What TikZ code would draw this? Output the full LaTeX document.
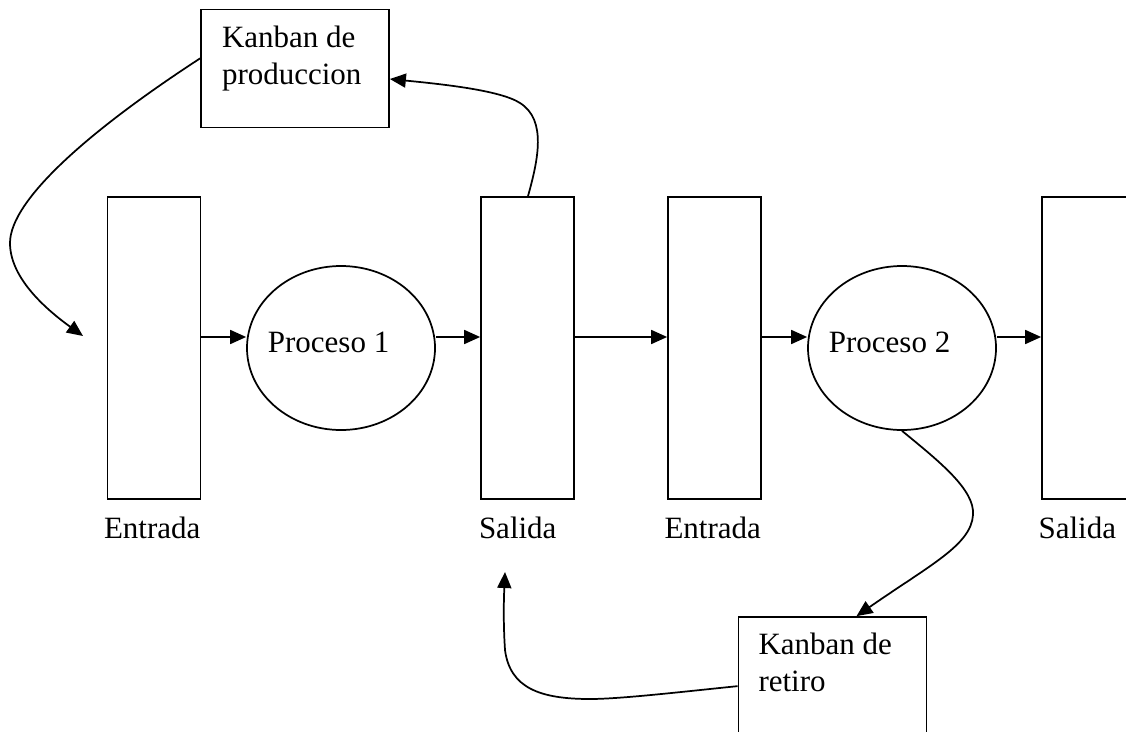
\documentclass[tikz,border=0pt]{standalone}
\usepackage{fontspec}
\setmainfont{Liberation Serif}
\usetikzlibrary{arrows.meta,shapes.geometric,calc}
\begin{document}
\begin{tikzpicture}[x=0.75pt,y=-0.75pt,
  line width=1.3pt,
  font=\fontsize{23.25}{27.75}\selectfont,
  buffer/.style={draw,rectangle,inner sep=0pt,minimum width=69.75pt,minimum height=226.5pt},
  proc/.style={draw,ellipse,inner sep=0pt,minimum width=141pt,minimum height=123pt},
  card/.style={draw,rectangle,inner sep=0pt,minimum width=141pt,minimum height=88.5pt},
  txt/.style={inner sep=0pt,anchor=base west},
  flow/.style={-{Triangle[length=12pt,width=10.5pt]}},
]
\useasboundingbox (0,0) rectangle (1126,731);
\clip (0,0) rectangle (1126,731);

% storage buffers
\node[buffer] (e1) at (154,348) {};
\node[buffer] (s1) at (527.5,348) {};
\node[buffer] (e2) at (714.5,348) {};
\node[buffer] (s2) at (1088.5,348) {};

% processes
\node[proc] (p1) at (341,348) {};
\node[proc] (p2) at (902,348) {};
\node[txt] (p1t) at ($(p1.center)+(-74,4)$) {Proceso 1};
\node[txt] (p2t) at ($(p2.center)+(-74,4)$) {Proceso 2};

% buffer labels
\node[txt] (le1) at ($(e1.south west)+(-3.5,39)$) {Entrada};
\node[txt] (ls1) at ($(s1.south west)+(-2,39)$) {Salida};
\node[txt] (le2) at ($(e2.south west)+(-3.5,39)$) {Entrada};
\node[txt] (ls2) at ($(s2.south west)+(-3.5,39)$) {Salida};

% kanban cards
\node[card] (kp) at (295,68.5) {};
\node[txt] (kpa) at ($(kp.north west)+(21,39)$) {Kanban de};
\node[txt] (kpb) at ($(kp.north west)+(21,76)$) {produccion};
\node[card] (kr) at (832.5,676) {};
\node[txt] (kra) at ($(kr.north west)+(20,38)$) {Kanban de};
\node[txt] (krb) at ($(kr.north west)+(20,75)$) {retiro};

% material flow
\coordinate (a1) at ($(e1.east)+(0,-11)$);
\coordinate (a2) at ($(p1.east)+(0,-11)$);
\coordinate (a3) at ($(s1.east)+(0,-11)$);
\coordinate (a4) at ($(e2.east)+(0,-11)$);
\coordinate (a5) at ($(p2.east)+(0,-11)$);
\draw[flow] (a1) -- (a1 -| p1.west);
\draw[flow] (a2) -- (a2 -| s1.west);
\draw[flow] (a3) -- (a3 -| e2.west);
\draw[flow] (a4) -- (a4 -| p2.west);
\draw[flow] (a5) -- (a5 -| s2.west);

% kanban loops
\coordinate (fbk1) at (83,336);
\coordinate (fbk2) at (505,572);
\draw[flow] ($(kp.south west)+(0,-70)$) .. controls (90,130) and (10,200) .. (10,243)
  .. controls (10,275) and (40,305) .. (fbk1);
\draw[flow] ($(s1.north)+(0.5,0)$) .. controls (538,160) and (547,120) .. (520,103)
  .. controls (500,90) and (440,84) .. ($(kp.east)+(0,10.5)$);
\draw[flow] (p2.south) .. controls (940,462) and (975,490) .. (973,515)
  .. controls (971,545) and (930,565) .. ($(kr.north)+(24,0)$);
\draw[flow] ($(kr.north west)+(0,70)$) .. controls (680,692) and (620,699) .. (590,699)
  .. controls (540,699) and (510,688) .. (505,650)
  .. controls (503,620) and (504,595) .. (fbk2);
\end{tikzpicture}
\end{document}
